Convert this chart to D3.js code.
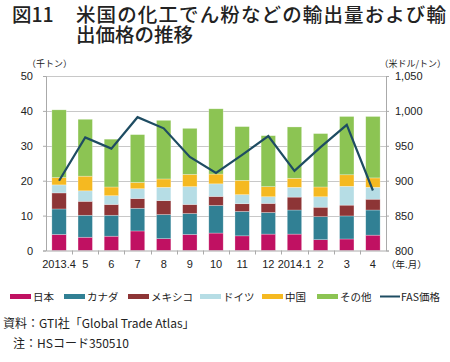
<!DOCTYPE html>
<html>
<head>
<meta charset="utf-8">
<script src="https://cdn.jsdelivr.net/npm/d3@7"></script>
<style>
  body { margin: 0; background: #fff; }
  svg { display: block; }
  text { font-family: "Noto Sans CJK JP", "Noto Sans", sans-serif; fill: #222; }
  .num { font-family: "Liberation Sans", "Noto Sans", sans-serif; }
</style>
</head>
<body>
<div id="chart"></div>
<script>
const months = ["2013.4", "5", "6", "7", "8", "9", "10", "11", "12", "2014.1", "2", "3", "4"];

// segment values (千トン)
const japan   = [4.6, 3.8, 4.1, 5.6, 3.4, 4.6, 5.0, 4.2, 4.7, 4.7, 3.1, 3.3, 4.4];
const canada  = [7.3, 6.3, 6.0, 6.5, 6.9, 6.0, 7.9, 7.0, 6.2, 6.9, 6.6, 6.6, 7.2];
const mexico  = [4.6, 4.0, 3.1, 2.8, 4.0, 2.6, 2.6, 2.2, 2.6, 3.7, 2.7, 3.1, 3.1];
const germany = [2.3, 3.0, 2.5, 2.8, 3.8, 5.1, 3.6, 2.6, 1.9, 2.8, 3.0, 5.4, 3.4];
const china   = [2.1, 4.2, 2.5, 1.8, 2.4, 3.5, 2.8, 4.1, 2.9, 2.6, 2.8, 3.3, 2.7];
const others  = [19.4, 16.3, 13.7, 13.7, 16.8, 13.2, 18.7, 15.4, 14.6, 14.7, 15.3, 16.7, 17.6];
const fasPrice = [900, 962, 946, 991, 975, 934, 911, 937, 964, 914, 948, 980, 886];

const seriesNames = ["日本", "カナダ", "メキシコ", "ドイツ", "中国", "その他"];
const seriesColors = ["#c01162", "#318094", "#8d3536", "#b6dde5", "#f5b921", "#8cc453"];
const lineColor = "#1e4c62";

const width = 450, height = 362;
const plotLeft = 46, plotRight = 386, plotTop = 76, plotBottom = 250.5;

const svg = d3.select("#chart").append("svg")
  .attr("width", width)
  .attr("height", height);

// title
const titleSize = "19.5px";
svg.append("text").attr("x", 12).attr("y", 22)
  .style("font-size", titleSize).style("font-weight", "500")
  .text("図11");
svg.append("text").attr("x", 76).attr("y", 22)
  .style("font-size", titleSize).style("font-weight", "500")
  .attr("textLength", 370)
  .text("米国の化工でん粉などの輸出量および輸");
svg.append("text").attr("x", 76).attr("y", 42)
  .style("font-size", titleSize).style("font-weight", "500")
  .text("出価格の推移");

// units
svg.append("text").attr("x", 27).attr("y", 67).style("font-size", "9px").text("（千トン）");
svg.append("text").attr("x", 446).attr("y", 67).attr("text-anchor", "end")
  .style("font-size", "9px").text("（米ドル/トン）");

const x = d3.scaleBand().domain(months).range([plotLeft, plotRight]).paddingInner(0.45).paddingOuter(0.225);
const y = d3.scaleLinear().domain([0, 50]).range([plotBottom, plotTop]);
const y2 = d3.scaleLinear().domain([800, 1050]).range([plotBottom, plotTop]);

// gridlines
svg.append("g")
  .selectAll("line")
  .data(y.ticks(5).filter(d => d > 0))
  .join("line")
  .attr("x1", plotLeft).attr("x2", plotRight)
  .attr("y1", d => Math.round(y(d)) + 0.5).attr("y2", d => Math.round(y(d)) + 0.5)
  .attr("stroke", "#c8c8c8");

// stacked bars
const rows = months.map((m, i) => ({
  month: m,
  "日本": japan[i], "カナダ": canada[i], "メキシコ": mexico[i],
  "ドイツ": germany[i], "中国": china[i], "その他": others[i]
}));
const stacked = d3.stack().keys(seriesNames)(rows);

svg.append("g")
  .selectAll("g")
  .data(stacked)
  .join("g")
  .attr("fill", (d, i) => seriesColors[i])
  .selectAll("rect")
  .data(d => d)
  .join("rect")
  .attr("x", d => x(d.data.month))
  .attr("width", x.bandwidth())
  .attr("y", d => y(d[1]))
  .attr("height", d => y(d[0]) - y(d[1]))
  .attr("stroke", "#fff")
  .attr("stroke-opacity", 0.45)
  .attr("stroke-width", 0.6);

// axes
const yAxis = svg.append("g")
  .attr("transform", `translate(${plotLeft},0)`)
  .call(d3.axisLeft(y).ticks(5).tickSize(3).tickPadding(10));
yAxis.selectAll("text").attr("class", "num").style("font-size", "11px");

const y2Axis = svg.append("g")
  .attr("transform", `translate(${plotRight},0)`)
  .call(d3.axisRight(y2).ticks(5).tickSize(3).tickPadding(6).tickFormat(d3.format(",")));
y2Axis.selectAll("text").attr("class", "num").style("font-size", "11px");

const xAxis = svg.append("g")
  .attr("transform", `translate(0,${plotBottom})`)
  .call(d3.axisBottom(x).tickSize(0).tickPadding(10));
xAxis.selectAll("text").attr("class", "num").style("font-size", "11px");

// tick marks between months
svg.append("g")
  .selectAll("line")
  .data(months.slice(1))
  .join("line")
  .attr("x1", d => Math.round(x(d) - x.step() * x.paddingInner() / 2) + 0.5)
  .attr("x2", d => Math.round(x(d) - x.step() * x.paddingInner() / 2) + 0.5)
  .attr("y1", plotBottom).attr("y2", plotBottom + 4)
  .attr("stroke", "#aaa");

[yAxis, y2Axis, xAxis].forEach(a => {
  a.select(".domain").attr("stroke", "#aaa");
  a.selectAll(".tick line").attr("stroke", "#aaa");
});

svg.append("text").attr("x", 386).attr("y", 268).style("font-size", "9.5px").text("（年.月）");

// FAS price line
svg.append("path")
  .datum(fasPrice)
  .attr("fill", "none")
  .attr("stroke", lineColor)
  .attr("stroke-width", 2.2)
  .attr("d", d3.line()
    .x((d, i) => x(months[i]) + x.bandwidth() / 2)
    .y(d => y2(d)));

// legend
const legendX = [10, 64, 128, 200, 262, 317];
const legend = svg.append("g");
seriesNames.forEach((name, i) => {
  legend.append("rect")
    .attr("x", legendX[i]).attr("y", 294)
    .attr("width", 21).attr("height", 5)
    .attr("fill", seriesColors[i]);
  legend.append("text")
    .attr("x", legendX[i] + 23).attr("y", 301)
    .style("font-size", "10.5px")
    .text(name);
});
legend.append("line")
  .attr("x1", 380).attr("x2", 400).attr("y1", 296.5).attr("y2", 296.5)
  .attr("stroke", lineColor).attr("stroke-width", 2);
legend.append("text")
  .attr("x", 401).attr("y", 301)
  .style("font-size", "10.5px")
  .text("FAS価格");

// footer
svg.append("text").attr("x", 3).attr("y", 328).style("font-size", "12px")
  .text("資料：GTI社「Global Trade Atlas」");
svg.append("text").attr("x", 13).attr("y", 348).style("font-size", "12px")
  .text("注：HSコード350510");
</script>
</body>
</html>
